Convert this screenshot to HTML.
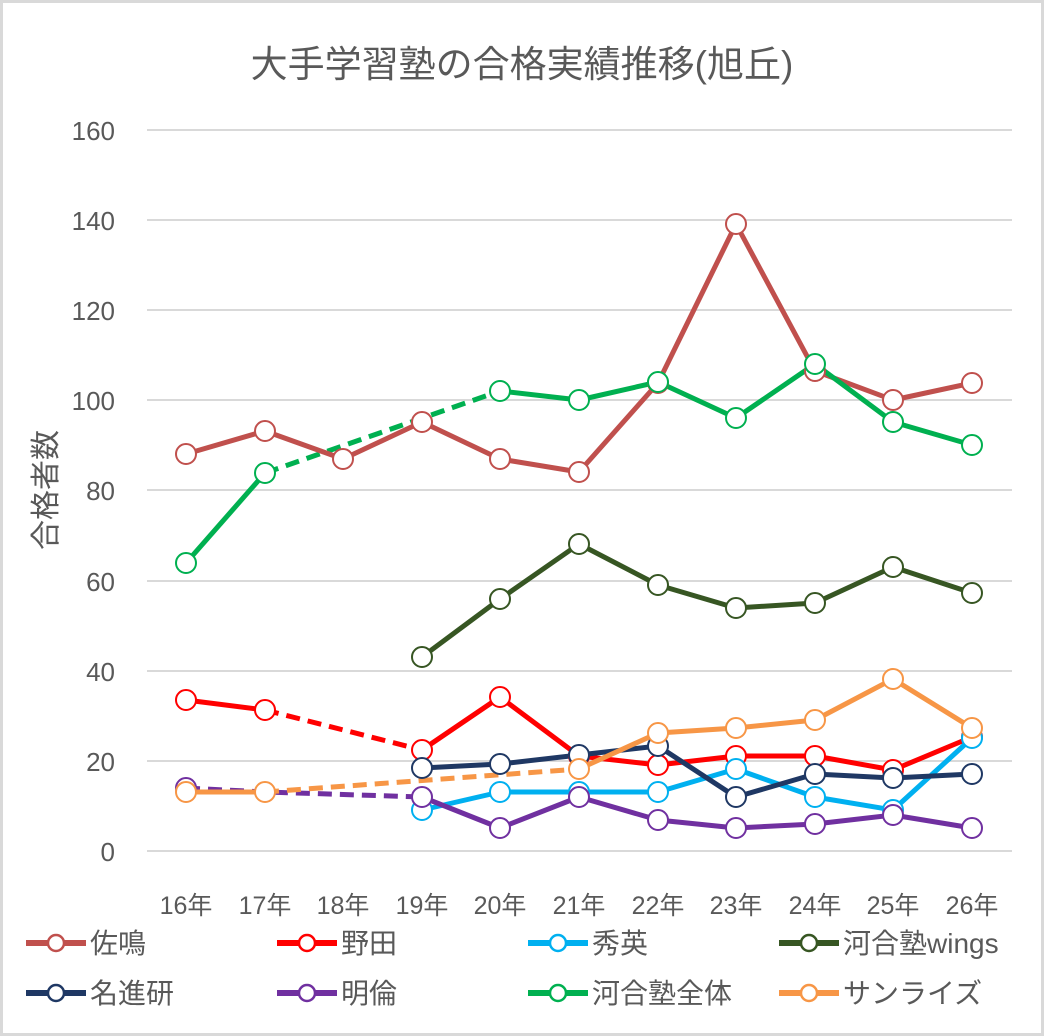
<!DOCTYPE html>
<html><head><meta charset="utf-8"><style>
html,body{margin:0;padding:0;background:#fff}
svg{display:block}
text{font-family:"Liberation Sans","Noto Sans CJK JP",sans-serif;fill:#595959}
</style></head><body>
<svg width="1044" height="1036" viewBox="0 0 1044 1036">
<rect x="1.5" y="1.5" width="1041" height="1033" fill="#fff" stroke="#d9d9d9" stroke-width="3"/>
<text x="522" y="77" font-size="37" text-anchor="middle">大手学習塾の合格実績推移(旭丘)</text>
<g stroke="#d9d9d9" stroke-width="2">
<line x1="147" x2="1012" y1="130" y2="130"/><line x1="147" x2="1012" y1="220" y2="220"/>
<line x1="147" x2="1012" y1="310" y2="310"/><line x1="147" x2="1012" y1="400" y2="400"/>
<line x1="147" x2="1012" y1="490" y2="490"/><line x1="147" x2="1012" y1="581" y2="581"/>
<line x1="147" x2="1012" y1="671" y2="671"/><line x1="147" x2="1012" y1="761" y2="761"/>
<line x1="147" x2="1012" y1="851" y2="851"/>
</g>
<g font-size="26" text-anchor="end">
<text x="115" y="140">160</text><text x="115" y="230">140</text><text x="115" y="320">120</text>
<text x="115" y="410">100</text><text x="115" y="500">80</text><text x="115" y="591">60</text>
<text x="115" y="681">40</text><text x="115" y="771">20</text><text x="115" y="861">0</text>
</g>
<text transform="translate(56,490) rotate(-90)" font-size="30" text-anchor="middle">合格者数</text>
<g font-size="25" text-anchor="middle">
<text x="186" y="914">16年</text><text x="265" y="914">17年</text><text x="343" y="914">18年</text>
<text x="422" y="914">19年</text><text x="500" y="914">20年</text><text x="579" y="914">21年</text>
<text x="658" y="914">22年</text><text x="736" y="914">23年</text><text x="815" y="914">24年</text>
<text x="893" y="914">25年</text><text x="972" y="914">26年</text>
</g>
<g fill="none" stroke-width="5" stroke-linejoin="round">
<polyline points="265,710 422,750" stroke="#ff0000" stroke-dasharray="14,8"/>
<polyline points="186,788 265,792 422,797" stroke="#7030a0" stroke-dasharray="14,8"/>
<polyline points="265,473 500,391" stroke="#00b050" stroke-dasharray="14,8"/>
<polyline points="265,792 579,769" stroke="#f79646" stroke-dasharray="14,8"/>
<polyline points="186,454 265,431 343,459 422,422 500,459 579,472 658,383 736,224 815,371 893,400 972,383" stroke="#c0504d"/>
<polyline points="186,700 265,710" stroke="#ff0000"/>
<polyline points="422,750 500,697 579,756 658,765 736,756 815,756 893,770 972,737" stroke="#ff0000"/>
<polyline points="422,810 500,792 579,792 658,792 736,769 815,797 893,810 972,738" stroke="#00b0f0"/>
<polyline points="422,657 500,599 579,544 658,585 736,608 815,603 893,567 972,593" stroke="#375623"/>
<polyline points="422,768 500,764 579,755 658,746 736,797 815,774 893,778 972,774" stroke="#1f3864"/>
<polyline points="422,797 500,828 579,797 658,820 736,828 815,824 893,815 972,828" stroke="#7030a0"/>
<polyline points="186,563 265,473" stroke="#00b050"/>
<polyline points="500,391 579,400 658,382 736,418 815,364 893,422 972,445" stroke="#00b050"/>
<polyline points="186,792 265,792" stroke="#f79646"/>
<polyline points="579,769 658,733 736,728 815,720 893,679 972,728" stroke="#f79646"/>
</g>
<g fill="#fff" stroke-width="2">
<g stroke="#c0504d"><circle cx="186" cy="454" r="10"/><circle cx="265" cy="431" r="10"/><circle cx="343" cy="459" r="10"/><circle cx="422" cy="422" r="10"/><circle cx="500" cy="459" r="10"/><circle cx="579" cy="472" r="10"/><circle cx="658" cy="383" r="10"/><circle cx="736" cy="224" r="10"/><circle cx="815" cy="371" r="10"/><circle cx="893" cy="400" r="10"/><circle cx="972" cy="383" r="10"/></g>
<g stroke="#ff0000"><circle cx="186" cy="700" r="10"/><circle cx="265" cy="710" r="10"/><circle cx="422" cy="750" r="10"/><circle cx="500" cy="697" r="10"/><circle cx="579" cy="756" r="10"/><circle cx="658" cy="765" r="10"/><circle cx="736" cy="756" r="10"/><circle cx="815" cy="756" r="10"/><circle cx="893" cy="770" r="10"/><circle cx="972" cy="737" r="10"/></g>
<g stroke="#00b0f0"><circle cx="422" cy="810" r="10"/><circle cx="500" cy="792" r="10"/><circle cx="579" cy="792" r="10"/><circle cx="658" cy="792" r="10"/><circle cx="736" cy="769" r="10"/><circle cx="815" cy="797" r="10"/><circle cx="893" cy="810" r="10"/><circle cx="972" cy="738" r="10"/></g>
<g stroke="#375623"><circle cx="422" cy="657" r="10"/><circle cx="500" cy="599" r="10"/><circle cx="579" cy="544" r="10"/><circle cx="658" cy="585" r="10"/><circle cx="736" cy="608" r="10"/><circle cx="815" cy="603" r="10"/><circle cx="893" cy="567" r="10"/><circle cx="972" cy="593" r="10"/></g>
<g stroke="#1f3864"><circle cx="422" cy="768" r="10"/><circle cx="500" cy="764" r="10"/><circle cx="579" cy="755" r="10"/><circle cx="658" cy="746" r="10"/><circle cx="736" cy="797" r="10"/><circle cx="815" cy="774" r="10"/><circle cx="893" cy="778" r="10"/><circle cx="972" cy="774" r="10"/></g>
<g stroke="#7030a0"><circle cx="186" cy="788" r="10"/><circle cx="422" cy="797" r="10"/><circle cx="500" cy="828" r="10"/><circle cx="579" cy="797" r="10"/><circle cx="658" cy="820" r="10"/><circle cx="736" cy="828" r="10"/><circle cx="815" cy="824" r="10"/><circle cx="893" cy="815" r="10"/><circle cx="972" cy="828" r="10"/></g>
<g stroke="#00b050"><circle cx="186" cy="563" r="10"/><circle cx="265" cy="473" r="10"/><circle cx="500" cy="391" r="10"/><circle cx="579" cy="400" r="10"/><circle cx="658" cy="382" r="10"/><circle cx="736" cy="418" r="10"/><circle cx="815" cy="364" r="10"/><circle cx="893" cy="422" r="10"/><circle cx="972" cy="445" r="10"/></g>
<g stroke="#f79646"><circle cx="186" cy="792" r="10"/><circle cx="265" cy="792" r="10"/><circle cx="579" cy="769" r="10"/><circle cx="658" cy="733" r="10"/><circle cx="736" cy="728" r="10"/><circle cx="815" cy="720" r="10"/><circle cx="893" cy="679" r="10"/><circle cx="972" cy="728" r="10"/></g>
</g>
<g font-size="28">
<g stroke-width="6">
<line x1="26" x2="86" y1="943" y2="943" stroke="#c0504d"/><line x1="277" x2="337" y1="943" y2="943" stroke="#ff0000"/>
<line x1="528" x2="588" y1="943" y2="943" stroke="#00b0f0"/><line x1="779" x2="839" y1="943" y2="943" stroke="#375623"/>
<line x1="26" x2="86" y1="993" y2="993" stroke="#1f3864"/><line x1="277" x2="337" y1="993" y2="993" stroke="#7030a0"/>
<line x1="528" x2="588" y1="993" y2="993" stroke="#00b050"/><line x1="779" x2="839" y1="993" y2="993" stroke="#f79646"/>
</g>
<g fill="#fff" stroke-width="2.5">
<circle cx="56" cy="943" r="8" stroke="#c0504d"/><circle cx="307" cy="943" r="8" stroke="#ff0000"/>
<circle cx="558" cy="943" r="8" stroke="#00b0f0"/><circle cx="809" cy="943" r="8" stroke="#375623"/>
<circle cx="56" cy="993" r="8" stroke="#1f3864"/><circle cx="307" cy="993" r="8" stroke="#7030a0"/>
<circle cx="558" cy="993" r="8" stroke="#00b050"/><circle cx="809" cy="993" r="8" stroke="#f79646"/>
</g>
<text x="90" y="953">佐鳴</text><text x="341" y="953">野田</text><text x="592" y="953">秀英</text><text x="843" y="953">河合塾wings</text>
<text x="90" y="1003">名進研</text><text x="341" y="1003">明倫</text><text x="592" y="1003">河合塾全体</text><text x="843" y="1003">サンライズ</text>
</g>
</svg>
</body></html>
